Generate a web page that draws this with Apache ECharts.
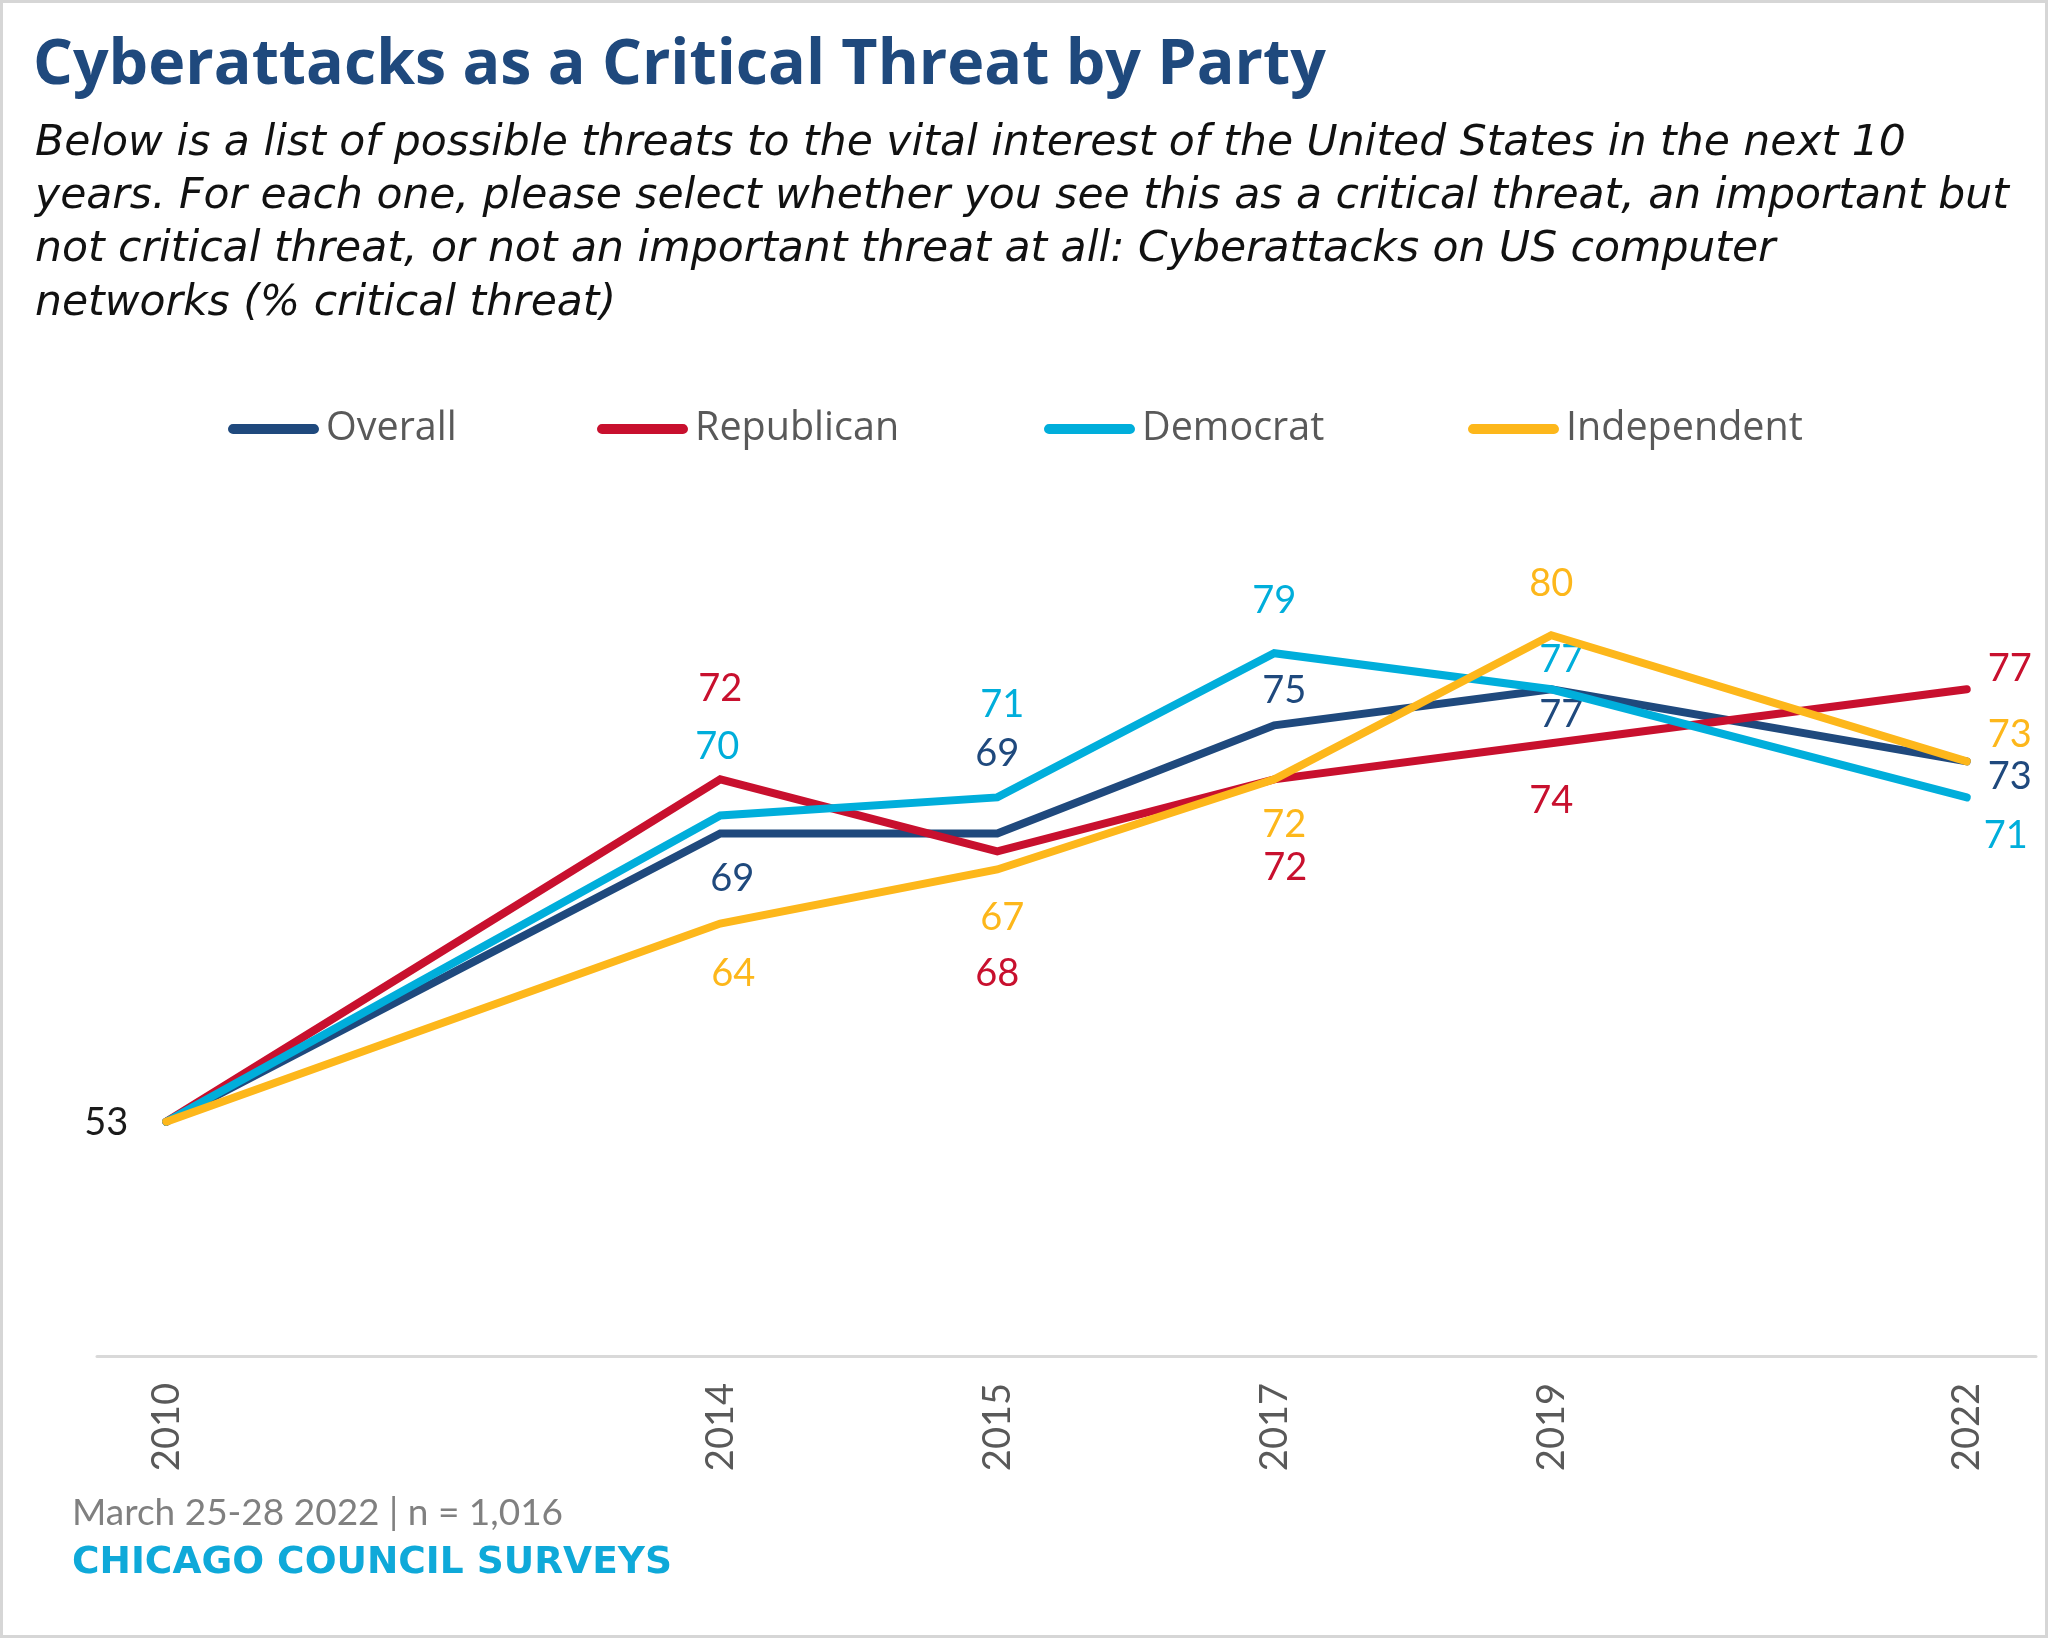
<!DOCTYPE html>
<html>
<head>
<meta charset="utf-8">
<script src="https://cdn.jsdelivr.net/npm/echarts@6/dist/echarts.min.js"></script>
<style>
  html, body { margin: 0; padding: 0; background: #fff; }
  #chart { width: 2048px; height: 1638px; }
</style>
</head>
<body>
<div id="chart"></div>
<script>
// ---------- data ----------
const axisSlots = ['2010', '', '', '', '2014', '', '2015', '', '2017', '', '2019', '', '', '2022'];
const years = ['2010', '2014', '2015', '2017', '2019', '2022'];
const seriesNames = ['Overall', 'Republican', 'Democrat', 'Independent'];
const overall = [53, 69, 69, 75, 77, 73];
const republican = [53, 72, 68, 72, 74, 77];
const democrat = [53, 70, 71, 79, 77, 71];
const independent = [53, 64, 67, 72, 80, 73];

// ---------- styling ----------
const colors = ['#1F497D', '#C8102E', '#00AEDB', '#FDB71B'];
const FONT = 'Lato, "Noto Sans", sans-serif';
const WIDE = '"Open Sans", Lato, sans-serif';
const WIDER = '"DejaVu Sans", "Open Sans", sans-serif';
// label offsets (px) relative to each point, null = no label
const labelOffsets = [
  [[-60, 1], [12, 45], [0, -80], [10, -35], [10, 25], [43, 15]],
  [null, [0, -91], [0, 122], [11, 88], [0, 57], [43, -21]],
  [null, [-3, -69], [5, -93], [0, -52], [10, -30], [39, 38]],
  [null, [13, 50], [5, 48], [10, 45], [0, -51], [43, -27]]
];
const labelColorOverride = { '0-0': '#1a1a1a' };

function buildSeriesData(values, sIdx) {
  return axisSlots.map(function (slot) {
    const i = slot === '' ? -1 : years.indexOf(slot);
    if (i < 0) return '-';
    const off = labelOffsets[sIdx][i];
    const item = { value: values[i] };
    if (off) {
      item.label = {
        show: true,
        position: 'inside',
        offset: off,
        color: labelColorOverride[sIdx + '-' + i] || colors[sIdx]
      };
    } else {
      item.label = { show: false };
    }
    return item;
  });
}

const allValues = [overall, republican, democrat, independent];
const series = seriesNames.map(function (name, s) {
  return {
    name: name,
    type: 'line',
    data: buildSeriesData(allValues[s], s),
    connectNulls: true,
    symbol: 'circle',
    symbolSize: 1,
    showSymbol: true,
    itemStyle: { color: colors[s] },
    lineStyle: { width: 8, color: colors[s], cap: 'round', join: 'miter' },
    label: { fontSize: 38, fontFamily: FONT },
    emphasis: { disabled: true },
    animation: false,
    z: 2 + s
  };
});

const legendLefts = [223, 592, 1039, 1463];
const legendIcon = 'path://M5,0 L85,0 A5,5 0 0 1 85,10 L5,10 A5,5 0 0 1 5,0 Z';
const legends = seriesNames.map(function (name, s) {
  return {
    data: [name],
    left: legendLefts[s],
    top: 404,
    icon: legendIcon,
    itemWidth: 91,
    itemHeight: 11,
    textStyle: { fontSize: 39.5, color: '#595959', fontFamily: WIDE, padding: [0, 0, 0, 2] },
    selectedMode: false
  };
});

const subtitle = 'Below is a list of possible threats to the vital interest of the United States in the next 10\n' +
  'years. For each one, please select whether you see this as a critical threat, an important but\n' +
  'not critical threat, or not an important threat at all: Cyberattacks on US computer\n' +
  'networks (% critical threat)';

const chart = echarts.init(document.getElementById('chart'), null, { renderer: 'canvas' });
chart.setOption({
  backgroundColor: '#ffffff',
  animation: false,
  color: colors,
  legend: legends,
  grid: { left: 97, width: 1939, top: 455, height: 901, containLabel: false },
  xAxis: {
    type: 'category',
    data: axisSlots,
    boundaryGap: true,
    axisLine: { show: true, lineStyle: { color: '#d9d9d9', width: 3 } },
    axisTick: { show: false },
    splitLine: { show: false },
    axisLabel: { interval: 0, rotate: 90, fontSize: 38, color: '#595959', fontFamily: FONT, margin: 27 }
  },
  yAxis: {
    type: 'value',
    min: 40,
    max: 90,
    show: false
  },
  series: series,
  graphic: [
    {
      type: 'rect', silent: true, z: 100,
      shape: { x: 1.5, y: 1.5, width: 2045, height: 1635 },
      style: { fill: 'none', stroke: '#d6d6d6', lineWidth: 3 }
    },
    {
      type: 'text', left: 33, top: 35,
      style: { text: 'Cyberattacks as a Critical Threat by Party', font: 'bold 62.7px ' + WIDE, fill: '#1F497D' }
    },
    {
      type: 'text', left: 35, top: 117,
      style: { text: subtitle, font: 'oblique 42.5px ' + WIDER, fill: '#111111', lineHeight: 53.3 }
    },
    {
      type: 'text', left: 72, top: 1495,
      style: { text: 'March 25-28 2022 | n = 1,016', font: '37px ' + FONT, fill: '#808080' }
    },
    {
      type: 'text', left: 72, top: 1544,
      style: { text: 'CHICAGO COUNCIL SURVEYS', font: 'bold 37.5px ' + WIDER, fill: '#0FA9D9' }
    }
  ]
});
</script>
</body>
</html>
